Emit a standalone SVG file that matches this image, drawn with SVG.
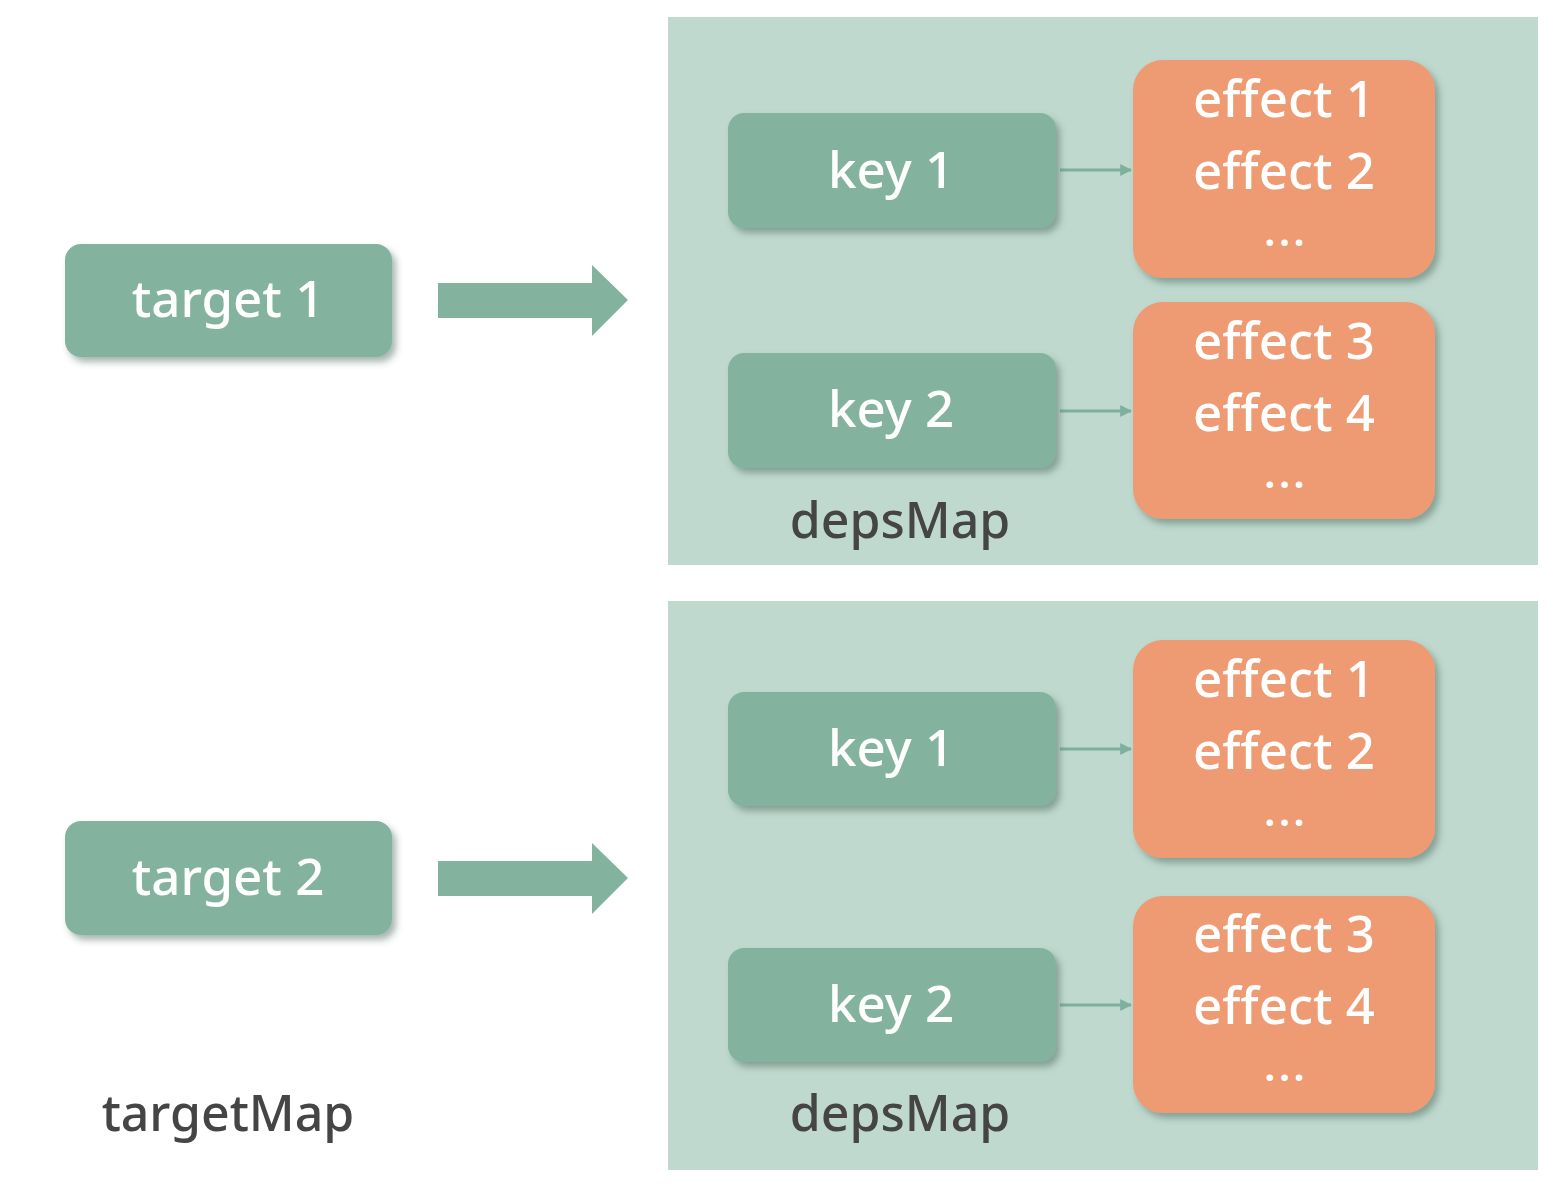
<svg xmlns="http://www.w3.org/2000/svg" width="1546" height="1188" viewBox="0 0 1546 1188">
<defs>
<filter id="sh" x="-10%" y="-10%" width="125%" height="130%">
<feDropShadow dx="4" dy="5" stdDeviation="3.5" flood-color="#3c5a50" flood-opacity="0.45"/>
</filter>
<marker id="ah" viewBox="0 0 10 10" refX="9" refY="5" markerWidth="12" markerHeight="12" markerUnits="userSpaceOnUse" orient="auto">
<path d="M0,0 L10,5 L0,10 z" fill="#7fb09c"/>
</marker>
<style>
.panel{fill:#c0d9cf}
.green{fill:#83b39f}
.orange{fill:#ee9a72}
.wt{font-family:"Noto Sans","Open Sans","Liberation Sans",sans-serif;font-size:51px;font-weight:500;fill:#ffffff;text-anchor:middle}
.dots{font-family:"Noto Sans","Open Sans","Liberation Sans",sans-serif;font-size:42px;font-weight:600;letter-spacing:3px;fill:#ffffff;text-anchor:middle}
.lbl{font-family:"Noto Sans","Open Sans","Liberation Sans",sans-serif;font-size:50px;font-weight:500;fill:#454545;text-anchor:middle}
.big{fill:#83b39f}
.conn{stroke:#7fb09c;stroke-width:3;fill:none}
</style>
</defs>
<rect width="1546" height="1188" fill="#ffffff"/>

<g id="panel1">
<rect class="panel" x="668" y="17" width="870" height="548"/>
</g>
<g id="panel2">
<rect class="panel" x="668" y="601" width="870" height="569"/>
</g>

<g id="connectors">
<path class="big" d="M438,283 H592 V265 L628,300 L592,336 V318 H438 Z"/>
<path class="big" d="M438,861 H592 V843 L628,878 L592,914 V896 H438 Z"/>
<line class="conn" x1="1060" y1="170" x2="1131" y2="170" marker-end="url(#ah)"/>
<line class="conn" x1="1060" y1="411" x2="1131" y2="411" marker-end="url(#ah)"/>
<line class="conn" x1="1060" y1="749" x2="1131" y2="749" marker-end="url(#ah)"/>
<line class="conn" x1="1060" y1="1005" x2="1131" y2="1005" marker-end="url(#ah)"/>
</g>

<g id="target1">
<rect class="green" filter="url(#sh)" x="65" y="244" width="327" height="113" rx="16"/>
<text class="wt" x="228" y="317">target 1</text>
</g>
<g id="target2">
<rect class="green" filter="url(#sh)" x="65" y="821" width="327" height="114" rx="16"/>
<text class="wt" x="228" y="895">target 2</text>
</g>

<g id="key1a">
<rect class="green" filter="url(#sh)" x="728" y="113" width="328" height="115" rx="16"/>
<text class="wt" x="891" y="188">key 1</text>
</g>
<g id="key2a">
<rect class="green" filter="url(#sh)" x="728" y="353" width="328" height="115" rx="16"/>
<text class="wt" x="891" y="427">key 2</text>
</g>
<g id="key1b">
<rect class="green" filter="url(#sh)" x="728" y="692" width="328" height="114" rx="16"/>
<text class="wt" x="891" y="766">key 1</text>
</g>
<g id="key2b">
<rect class="green" filter="url(#sh)" x="728" y="948" width="328" height="114" rx="16"/>
<text class="wt" x="891" y="1022">key 2</text>
</g>

<g id="effects1a">
<rect class="orange" filter="url(#sh)" x="1133" y="60" width="302" height="218" rx="30"/>
<text class="wt" x="1284" y="117">effect 1</text>
<text class="wt" x="1284" y="189">effect 2</text>
<text class="dots" x="1286" y="246">...</text>
</g>
<g id="effects2a">
<rect class="orange" filter="url(#sh)" x="1133" y="302" width="302" height="217" rx="30"/>
<text class="wt" x="1284" y="359">effect 3</text>
<text class="wt" x="1284" y="431">effect 4</text>
<text class="dots" x="1286" y="488">...</text>
</g>
<g id="effects1b">
<rect class="orange" filter="url(#sh)" x="1133" y="640" width="302" height="218" rx="30"/>
<text class="wt" x="1284" y="697">effect 1</text>
<text class="wt" x="1284" y="769">effect 2</text>
<text class="dots" x="1286" y="826">...</text>
</g>
<g id="effects2b">
<rect class="orange" filter="url(#sh)" x="1133" y="896" width="302" height="217" rx="30"/>
<text class="wt" x="1284" y="952">effect 3</text>
<text class="wt" x="1284" y="1024">effect 4</text>
<text class="dots" x="1286" y="1081">...</text>
</g>

<g id="labels">
<text class="lbl" x="900" y="538">depsMap</text>
<text class="lbl" x="900" y="1131">depsMap</text>
<text class="lbl" x="228" y="1131">targetMap</text>
</g>
</svg>
